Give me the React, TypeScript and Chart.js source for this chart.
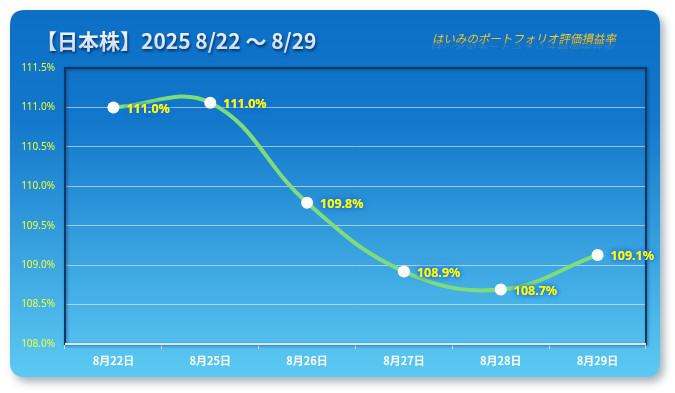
import React, { useEffect, useRef } from "react";
import { Chart, registerables } from "chart.js";

Chart.register(...registerables);

const categories = ["8月22日", "8月25日", "8月26日", "8月27日", "8月28日", "8月29日"];
const values = [111.0, 111.06, 109.79, 108.92, 108.69, 109.13];
const valueLabels = ["111.0%", "111.0%", "109.8%", "108.9%", "108.7%", "109.1%"];
const yMin = 108.0;
const yMax = 111.5;
const yStep = 0.5;
const titleText = "【日本株】2025 8/22 ～ 8/29";
const subtitleText = "はいみのポートフォリオ評価損益率";

function roundRect(ctx: CanvasRenderingContext2D, x: number, y: number, w: number, h: number, r: number) {
  ctx.beginPath();
  ctx.moveTo(x + r, y);
  ctx.lineTo(x + w - r, y);
  ctx.quadraticCurveTo(x + w, y, x + w, y + r);
  ctx.lineTo(x + w, y + h - r);
  ctx.quadraticCurveTo(x + w, y + h, x + w - r, y + h);
  ctx.lineTo(x + r, y + h);
  ctx.quadraticCurveTo(x, y + h, x, y + h - r);
  ctx.lineTo(x, y + r);
  ctx.quadraticCurveTo(x, y, x + r, y);
  ctx.closePath();
}

const backgroundPlugin = {
  id: "cardBackground",
  beforeDraw(chart: any) {
    const ctx = chart.ctx as CanvasRenderingContext2D;
    ctx.save();
    ctx.shadowColor = "rgba(60,80,100,0.45)";
    ctx.shadowBlur = 8;
    ctx.shadowOffsetX = 4;
    ctx.shadowOffsetY = 5;
    const grad = ctx.createLinearGradient(0, 10, 0, 378);
    grad.addColorStop(0, "#0b6fc6");
    grad.addColorStop(0.3, "#1378cb");
    grad.addColorStop(1, "#5dcaf3");
    ctx.fillStyle = grad;
    roundRect(ctx, 10, 10, 650, 367, 15);
    ctx.fill();
    ctx.restore();

    // title
    ctx.save();
    ctx.font = "bold 21px 'Noto Sans CJK JP'";
    ctx.textBaseline = "middle";
    ctx.textAlign = "left";
    ctx.shadowColor = "rgba(0,30,80,0.8)";
    ctx.shadowBlur = 3;
    ctx.shadowOffsetX = 1;
    ctx.shadowOffsetY = 2;
    const tg = ctx.createLinearGradient(0, 30, 0, 52);
    tg.addColorStop(0, "#f2f6fc");
    tg.addColorStop(1, "#c9d8ea");
    ctx.fillStyle = tg;
    ctx.fillText(titleText, 36, 41);
    ctx.restore();

    // subtitle with faint reflection
    ctx.save();
    ctx.font = "11.5px 'Noto Sans CJK JP'";
    ctx.textBaseline = "alphabetic";
    ctx.textAlign = "left";
    const sx = 432;
    const sy = 43;
    const sg = ctx.createLinearGradient(0, sy - 11, 0, sy);
    sg.addColorStop(0, "#ffe448");
    sg.addColorStop(1, "#f2a900");
    ctx.fillStyle = sg;
    ctx.setTransform(1, 0, -0.22, 1, sy * 0.22, 0);
    ctx.fillText(subtitleText, sx, sy);
    ctx.setTransform(1, 0, 0.22, -0.55, -sy * 0.22, sy * 1.55 + 1);
    ctx.globalAlpha = 0.22;
    ctx.fillStyle = "#e8c878";
    ctx.fillText(subtitleText, sx, sy);
    ctx.restore();
  },
  beforeDatasetsDraw(chart: any) {
    const ctx = chart.ctx as CanvasRenderingContext2D;
    const a = chart.chartArea;
    ctx.save();
    ctx.shadowColor = "rgba(0,20,60,0.5)";
    ctx.shadowBlur = 3;
    ctx.shadowOffsetX = 1;
    ctx.shadowOffsetY = 1;
    ctx.strokeStyle = "#0c3867";
    ctx.lineWidth = 2;
    ctx.strokeRect(a.left, a.top, a.right - a.left, a.bottom - a.top);
    ctx.restore();
    ctx.save();
    ctx.strokeStyle = "#d7e8f2";
    ctx.lineWidth = 2;
    ctx.beginPath();
    ctx.moveTo(a.left, a.bottom);
    ctx.lineTo(a.right, a.bottom);
    ctx.stroke();
    ctx.restore();
  },
  afterDatasetsDraw(chart: any) {
    const ctx = chart.ctx as CanvasRenderingContext2D;
    const meta = chart.getDatasetMeta(0);
    ctx.save();
    ctx.font = "bold 12.5px 'Noto Sans'";
    ctx.textAlign = "left";
    ctx.textBaseline = "middle";
    meta.data.forEach((pt: any, i: number) => {
      const x = pt.x + 13;
      const y = pt.y + 2;
      ctx.shadowColor = "#1a64e0";
      ctx.shadowBlur = 5;
      ctx.fillStyle = "#ffff00";
      ctx.fillText(valueLabels[i], x, y);
      ctx.fillText(valueLabels[i], x, y);
    });
    ctx.restore();
  },
};

export default function App() {
  const ref = useRef<HTMLCanvasElement | null>(null);
  useEffect(() => {
    if (!ref.current) return;
    const chart = new Chart(ref.current, {
      type: "line",
      data: {
        labels: categories,
        datasets: [
          {
            data: values,
            borderColor: "#7fdd79",
            borderWidth: 4,
            tension: 0.4,
            pointRadius: 6,
            pointBackgroundColor: "#ffffff",
            pointBorderColor: "#ffffff",
            pointBorderWidth: 0,
            fill: false,
          },
        ],
      },
      options: {
        responsive: false,
        animation: false,
        devicePixelRatio: 1,
        layout: { padding: { left: 0, top: 68, right: 29, bottom: 0 } },
        plugins: {
          legend: { display: false },
          tooltip: { enabled: false },
          title: { display: false },
        },
        scales: {
          x: {
            offset: true,
            afterFit(scale: any) {
              scale.height = 49;
            },
            grid: {
              display: true,
              drawOnChartArea: false,
              drawTicks: true,
              tickLength: 5,
              color: "#d7e8f2",
              lineWidth: 1,
              offset: true,
            },
            border: { display: false },
            ticks: {
              color: "#ffffff",
              padding: 5,
              font: { family: "'Noto Sans CJK JP'", size: 11, weight: "bold" },
              maxRotation: 0,
            },
          },
          y: {
            min: yMin,
            max: yMax,
            afterFit(scale: any) {
              scale.width = 65;
            },
            grid: {
              color: "rgba(230,240,255,0.6)",
              lineWidth: 1,
              drawTicks: false,
            },
            border: { display: false },
            ticks: {
              stepSize: yStep,
              padding: 10,
              color: "#eeff33",
              font: { family: "'Noto Sans'", size: 10 },
              callback: (v: any) => Number(v).toFixed(1) + "%",
            },
          },
        },
      },
      plugins: [backgroundPlugin],
    } as any);
    return () => chart.destroy();
  }, []);
  return (
    <div style={{ position: "absolute", left: 0, top: 0, width: 675, height: 393, background: "#ffffff" }}>
      <canvas ref={ref} width={675} height={393} style={{ display: "block", width: 675, height: 393 }} />
    </div>
  );
}
